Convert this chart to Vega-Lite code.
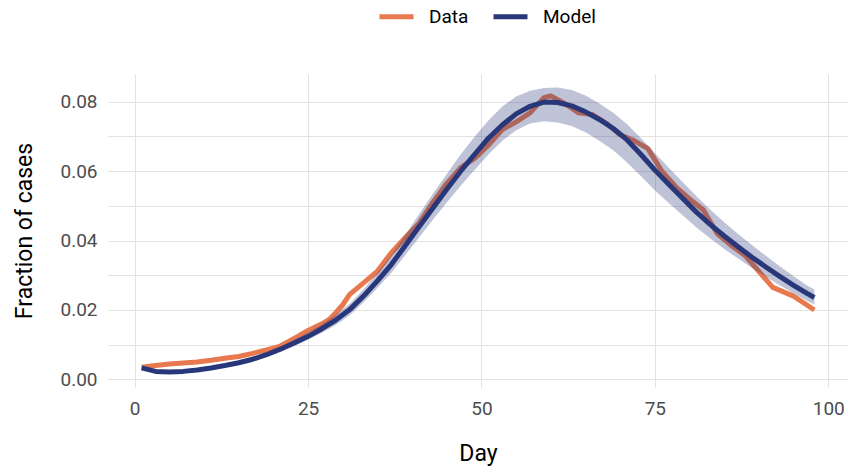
{
  "$schema": "https://vega.github.io/schema/vega-lite/v6.json",
  "width": 740,
  "height": 313,
  "autosize": {"type": "none"},
  "padding": {"left": 108, "top": 74, "right": 0, "bottom": 85},
  "background": "white",
  "config": {
    "font": "Roboto",
    "view": {"stroke": null},
    "axis": {
      "grid": true,
      "gridColor": "#E2E2E2",
      "gridWidth": 1,
      "ticks": false,
      "domain": false,
      "labelColor": "#4D4D4D",
      "labelFontSize": 19,
      "titleFontSize": 23,
      "titleFontWeight": "normal",
      "titleColor": "#000000"
    },
    "legend": {
      "orient": "none",
      "direction": "horizontal",
      "legendX": 269,
      "legendY": -77,
      "padding": 0,
      "symbolType": "stroke",
      "symbolSize": 1156,
      "symbolStrokeWidth": 5,
      "labelFontSize": 19,
      "labelColor": "#000000",
      "labelOffset": 13,
      "columnPadding": 14,
      "title": null
    }
  },
  "datasets": {
    "obs": [
      {"day": 1, "frac": 0.0035, "series": "Data"},
      {"day": 3, "frac": 0.0040, "series": "Data"},
      {"day": 5, "frac": 0.0044, "series": "Data"},
      {"day": 7, "frac": 0.0047, "series": "Data"},
      {"day": 9, "frac": 0.0050, "series": "Data"},
      {"day": 11, "frac": 0.0055, "series": "Data"},
      {"day": 13, "frac": 0.0061, "series": "Data"},
      {"day": 15, "frac": 0.0066, "series": "Data"},
      {"day": 17, "frac": 0.0075, "series": "Data"},
      {"day": 19, "frac": 0.0085, "series": "Data"},
      {"day": 21, "frac": 0.0096, "series": "Data"},
      {"day": 23, "frac": 0.0118, "series": "Data"},
      {"day": 25, "frac": 0.0141, "series": "Data"},
      {"day": 27, "frac": 0.0160, "series": "Data"},
      {"day": 28, "frac": 0.0172, "series": "Data"},
      {"day": 29, "frac": 0.0192, "series": "Data"},
      {"day": 30, "frac": 0.0215, "series": "Data"},
      {"day": 31, "frac": 0.0245, "series": "Data"},
      {"day": 33, "frac": 0.0278, "series": "Data"},
      {"day": 35, "frac": 0.0312, "series": "Data"},
      {"day": 37, "frac": 0.0365, "series": "Data"},
      {"day": 39, "frac": 0.0408, "series": "Data"},
      {"day": 41, "frac": 0.0450, "series": "Data"},
      {"day": 43, "frac": 0.0510, "series": "Data"},
      {"day": 45, "frac": 0.0565, "series": "Data"},
      {"day": 47, "frac": 0.0610, "series": "Data"},
      {"day": 49, "frac": 0.0637, "series": "Data"},
      {"day": 51, "frac": 0.0675, "series": "Data"},
      {"day": 53, "frac": 0.0720, "series": "Data"},
      {"day": 55, "frac": 0.0742, "series": "Data"},
      {"day": 57, "frac": 0.0768, "series": "Data"},
      {"day": 59, "frac": 0.0812, "series": "Data"},
      {"day": 60, "frac": 0.0817, "series": "Data"},
      {"day": 62, "frac": 0.0795, "series": "Data"},
      {"day": 64, "frac": 0.0768, "series": "Data"},
      {"day": 66, "frac": 0.0763, "series": "Data"},
      {"day": 68, "frac": 0.0738, "series": "Data"},
      {"day": 70, "frac": 0.0705, "series": "Data"},
      {"day": 72, "frac": 0.0688, "series": "Data"},
      {"day": 74, "frac": 0.0665, "series": "Data"},
      {"day": 76, "frac": 0.0600, "series": "Data"},
      {"day": 78, "frac": 0.0555, "series": "Data"},
      {"day": 80, "frac": 0.0520, "series": "Data"},
      {"day": 82, "frac": 0.0488, "series": "Data"},
      {"day": 84, "frac": 0.0420, "series": "Data"},
      {"day": 86, "frac": 0.0386, "series": "Data"},
      {"day": 88, "frac": 0.0357, "series": "Data"},
      {"day": 92, "frac": 0.0265, "series": "Data"},
      {"day": 95, "frac": 0.0240, "series": "Data"},
      {"day": 98, "frac": 0.0200, "series": "Data"}
    ],
    "fit": [
      {"day": 1, "frac": 0.0033, "lo": 0.0030, "hi": 0.0036, "series": "Model"},
      {"day": 3, "frac": 0.0023, "lo": 0.0021, "hi": 0.0026, "series": "Model"},
      {"day": 5, "frac": 0.0021, "lo": 0.0019, "hi": 0.0023, "series": "Model"},
      {"day": 7, "frac": 0.0023, "lo": 0.0021, "hi": 0.0025, "series": "Model"},
      {"day": 9, "frac": 0.0027, "lo": 0.0025, "hi": 0.0030, "series": "Model"},
      {"day": 11, "frac": 0.0033, "lo": 0.0030, "hi": 0.0036, "series": "Model"},
      {"day": 13, "frac": 0.0040, "lo": 0.0037, "hi": 0.0044, "series": "Model"},
      {"day": 15, "frac": 0.0048, "lo": 0.0044, "hi": 0.0052, "series": "Model"},
      {"day": 17, "frac": 0.0058, "lo": 0.0053, "hi": 0.0063, "series": "Model"},
      {"day": 19, "frac": 0.0071, "lo": 0.0065, "hi": 0.0077, "series": "Model"},
      {"day": 21, "frac": 0.0087, "lo": 0.0080, "hi": 0.0094, "series": "Model"},
      {"day": 23, "frac": 0.0105, "lo": 0.0096, "hi": 0.0114, "series": "Model"},
      {"day": 25, "frac": 0.0124, "lo": 0.0114, "hi": 0.0135, "series": "Model"},
      {"day": 27, "frac": 0.0146, "lo": 0.0134, "hi": 0.0159, "series": "Model"},
      {"day": 29, "frac": 0.0171, "lo": 0.0157, "hi": 0.0186, "series": "Model"},
      {"day": 31, "frac": 0.0201, "lo": 0.0185, "hi": 0.0218, "series": "Model"},
      {"day": 33, "frac": 0.0240, "lo": 0.0222, "hi": 0.0260, "series": "Model"},
      {"day": 35, "frac": 0.0284, "lo": 0.0263, "hi": 0.0307, "series": "Model"},
      {"day": 37, "frac": 0.0331, "lo": 0.0307, "hi": 0.0358, "series": "Model"},
      {"day": 39, "frac": 0.0385, "lo": 0.0358, "hi": 0.0416, "series": "Model"},
      {"day": 41, "frac": 0.0440, "lo": 0.0409, "hi": 0.0476, "series": "Model"},
      {"day": 43, "frac": 0.0494, "lo": 0.0460, "hi": 0.0535, "series": "Model"},
      {"day": 45, "frac": 0.0548, "lo": 0.0510, "hi": 0.0592, "series": "Model"},
      {"day": 47, "frac": 0.0600, "lo": 0.0558, "hi": 0.0648, "series": "Model"},
      {"day": 49, "frac": 0.0648, "lo": 0.0603, "hi": 0.0699, "series": "Model"},
      {"day": 51, "frac": 0.0695, "lo": 0.0648, "hi": 0.0746, "series": "Model"},
      {"day": 53, "frac": 0.0733, "lo": 0.0688, "hi": 0.0786, "series": "Model"},
      {"day": 55, "frac": 0.0765, "lo": 0.0718, "hi": 0.0815, "series": "Model"},
      {"day": 57, "frac": 0.0787, "lo": 0.0737, "hi": 0.0832, "series": "Model"},
      {"day": 59, "frac": 0.0799, "lo": 0.0744, "hi": 0.0840, "series": "Model"},
      {"day": 61, "frac": 0.0798, "lo": 0.0740, "hi": 0.0841, "series": "Model"},
      {"day": 63, "frac": 0.0788, "lo": 0.0730, "hi": 0.0834, "series": "Model"},
      {"day": 65, "frac": 0.0771, "lo": 0.0712, "hi": 0.0818, "series": "Model"},
      {"day": 67, "frac": 0.0749, "lo": 0.0688, "hi": 0.0795, "series": "Model"},
      {"day": 69, "frac": 0.0723, "lo": 0.0660, "hi": 0.0768, "series": "Model"},
      {"day": 71, "frac": 0.0690, "lo": 0.0625, "hi": 0.0735, "series": "Model"},
      {"day": 73, "frac": 0.0648, "lo": 0.0585, "hi": 0.0695, "series": "Model"},
      {"day": 75, "frac": 0.0603, "lo": 0.0545, "hi": 0.0652, "series": "Model"},
      {"day": 77, "frac": 0.0562, "lo": 0.0508, "hi": 0.0610, "series": "Model"},
      {"day": 79, "frac": 0.0522, "lo": 0.0473, "hi": 0.0569, "series": "Model"},
      {"day": 81, "frac": 0.0482, "lo": 0.0438, "hi": 0.0528, "series": "Model"},
      {"day": 83, "frac": 0.0446, "lo": 0.0406, "hi": 0.0489, "series": "Model"},
      {"day": 85, "frac": 0.0413, "lo": 0.0376, "hi": 0.0453, "series": "Model"},
      {"day": 87, "frac": 0.0382, "lo": 0.0348, "hi": 0.0419, "series": "Model"},
      {"day": 89, "frac": 0.0352, "lo": 0.0321, "hi": 0.0387, "series": "Model"},
      {"day": 91, "frac": 0.0324, "lo": 0.0296, "hi": 0.0356, "series": "Model"},
      {"day": 93, "frac": 0.0297, "lo": 0.0271, "hi": 0.0326, "series": "Model"},
      {"day": 95, "frac": 0.0271, "lo": 0.0248, "hi": 0.0297, "series": "Model"},
      {"day": 97, "frac": 0.0247, "lo": 0.0226, "hi": 0.0270, "series": "Model"},
      {"day": 98, "frac": 0.0236, "lo": 0.0216, "hi": 0.0259, "series": "Model"}
    ]
  },
  "encoding": {
    "x": {
      "field": "day",
      "type": "quantitative",
      "scale": {"domain": [-3.85, 102.85], "nice": false, "zero": false},
      "axis": {"values": [0, 25, 50, 75, 100], "title": "Day", "labelPadding": 12, "titlePadding": 24}
    }
  },
  "resolve": {"axis": {"y": "independent"}},
  "layer": [
    {
      "data": {"name": "obs"},
      "mark": {"type": "line", "strokeWidth": 5, "strokeJoin": "round"},
      "encoding": {
        "y": {
          "field": "frac",
          "type": "quantitative",
          "scale": {"domain": [-0.0022, 0.088], "nice": false, "zero": false},
          "axis": {
            "orient": "left",
            "values": [0, 0.02, 0.04, 0.06, 0.08],
            "format": ".2f",
            "title": "Fraction of cases",
            "labelPadding": 11,
            "titlePadding": 23
          }
        },
        "color": {
          "field": "series",
          "type": "nominal",
          "scale": {"domain": ["Data", "Model"], "range": ["#E8794F", "#283779"]}
        }
      }
    },
    {
      "data": {"name": "fit"},
      "mark": {"type": "area", "color": "#283779", "opacity": 0.3},
      "encoding": {
        "y": {
          "field": "lo",
          "type": "quantitative",
          "axis": {
            "orient": "right",
            "values": [0.01, 0.03, 0.05, 0.07],
            "labels": false,
            "title": null,
            "grid": true,
            "gridColor": "#E2E2E2",
            "gridOpacity": 1,
            "labelPadding": 0
          }
        },
        "y2": {"field": "hi"}
      }
    },
    {
      "data": {"name": "fit"},
      "mark": {"type": "line", "strokeWidth": 5, "strokeJoin": "round"},
      "encoding": {
        "y": {"field": "frac", "type": "quantitative", "axis": null},
        "color": {"field": "series", "type": "nominal"}
      }
    }
  ]
}
